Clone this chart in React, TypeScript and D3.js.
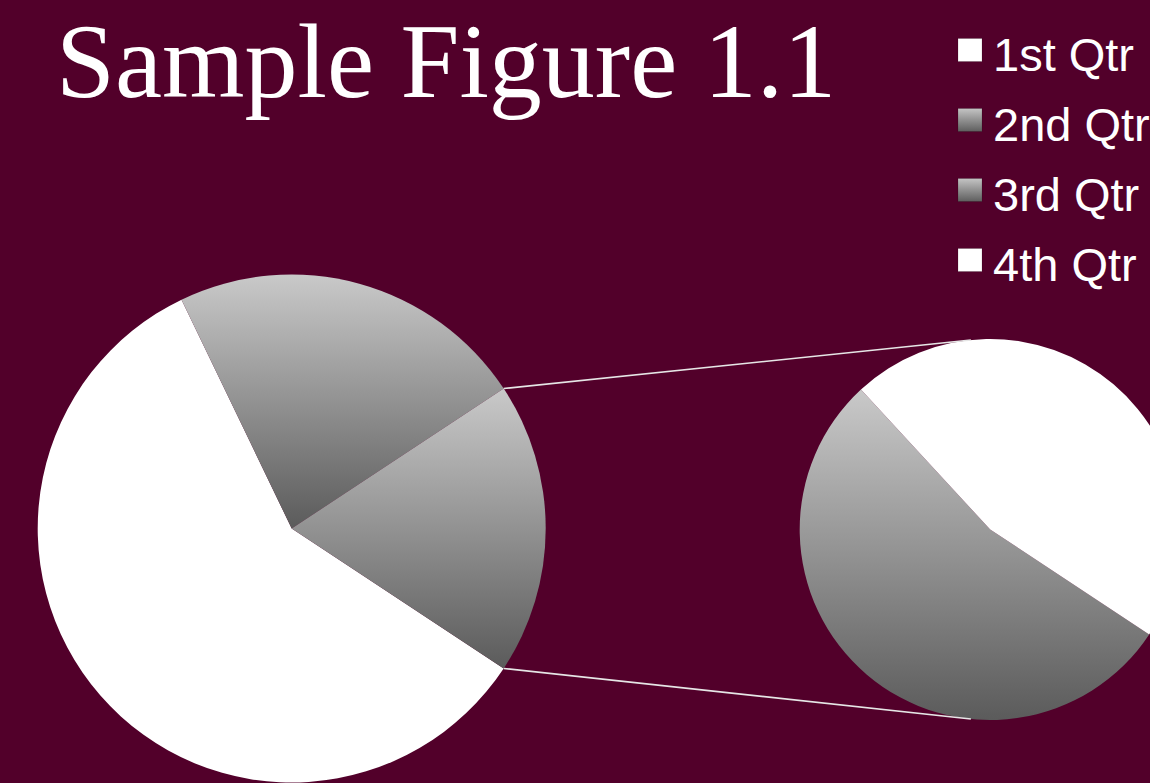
import React from "react";
import * as d3 from "d3";

const categories = ["1st Qtr", "2nd Qtr", "3rd Qtr", "4th Qtr"];
const sales = [8.2, 3.2, 1.4, 1.2];
const secondaryCount = 2; // last N values go to the secondary pie
const fillKinds = ["white", "grad", "grad", "white"];
const titleText = "Sample Figure 1.1";

const W = 1150;
const H = 783;
const BG = "#52002a";

export default function App() {
  const primaryN = sales.length - secondaryCount;
  const primaryVals = sales.slice(0, primaryN);
  const secondaryVals = sales.slice(primaryN);
  const otherVal = d3.sum(secondaryVals);
  const total = d3.sum(sales);

  const mainData = [...primaryVals, otherVal];
  const mainKinds = [...fillKinds.slice(0, primaryN), "grad"];
  const secKinds = fillKinds.slice(primaryN);

  const otherAngle = (2 * Math.PI * otherVal) / total;
  const start = Math.PI / 2 + otherAngle / 2;

  const r1 = 254;
  const r2 = r1 * 0.75;
  const c1 = { x: 291.7, y: 528.5 };
  const c2 = { x: c1.x + r1 + r1 + r2, y: 529.5 };

  const pieGen = d3
    .pie<number>()
    .sort(null)
    .value((d) => d)
    .startAngle(start)
    .endAngle(start + 2 * Math.PI);

  const mainArcs = pieGen(mainData);
  const secArcs = pieGen(secondaryVals);

  const arc1 = d3.arc<d3.PieArcDatum<number>>().innerRadius(0).outerRadius(r1);
  const arc2 = d3.arc<d3.PieArcDatum<number>>().innerRadius(0).outerRadius(r2);

  const otherArc = mainArcs[mainArcs.length - 1];
  const pt = (c: { x: number; y: number }, r: number, a: number) => ({
    x: c.x + r * Math.sin(a),
    y: c.y - r * Math.cos(a),
  });
  const p1a = pt(c1, r1, otherArc.startAngle);
  const p1b = pt(c1, r1, otherArc.endAngle);
  const off = Math.asin(19.3 / r2);
  const p2a = pt(c2, r2, -off);
  const p2b = pt(c2, r2, Math.PI + off);

  const fillFor = (k: string) => (k === "white" ? "#ffffff" : "url(#sliceGrad)");

  return (
    <svg
      width={W}
      height={H}
      style={{ position: "fixed", left: 0, top: 0, display: "block" }}
    >
      <defs>
        <linearGradient id="sliceGrad" x1="0" y1="0" x2="0" y2="1">
          <stop offset="0%" stopColor="#c9c9c9" />
          <stop offset="100%" stopColor="#5b5b5b" />
        </linearGradient>
        <linearGradient id="legGrad" x1="0" y1="0" x2="0" y2="1">
          <stop offset="0%" stopColor="#c4c4c4" />
          <stop offset="100%" stopColor="#5e5e5e" />
        </linearGradient>
      </defs>
      <rect x={0} y={0} width={W} height={H} fill={BG} />

      <text
        x={56}
        y={97}
        fill="#ffffff"
        fontFamily="'Liberation Serif', 'Times New Roman', serif"
        fontSize={106}
      >
        {titleText}
      </text>

      <g transform={`translate(${c1.x},${c1.y})`}>
        {mainArcs.map((a, i) => (
          <path key={i} d={arc1(a) || ""} fill={fillFor(mainKinds[i])} />
        ))}
      </g>

      <g transform={`translate(${c2.x},${c2.y})`}>
        {secArcs.map((a, i) => (
          <path key={i} d={arc2(a) || ""} fill={fillFor(secKinds[i])} />
        ))}
      </g>

      <line x1={p1a.x} y1={p1a.y} x2={p2a.x} y2={p2a.y} stroke="#e6e6e6" strokeWidth={1.6} />
      <line x1={p1b.x} y1={p1b.y} x2={p2b.x} y2={p2b.y} stroke="#e6e6e6" strokeWidth={1.6} />

      <g>
        {categories.map((c, i) => (
          <g key={c} transform={`translate(958,${38.5 + i * 70})`}>
            <rect
              x={0}
              y={0}
              width={24}
              height={23}
              fill={fillKinds[i] === "white" ? "#ffffff" : "url(#legGrad)"}
              stroke="rgba(0,0,0,0.25)"
              strokeWidth={0.6}
            />
            <text
              x={35}
              y={32.5}
              fill="#ffffff"
              fontFamily="'Liberation Sans', Arial, sans-serif"
              fontSize={47}
            >
              {c}
            </text>
          </g>
        ))}
      </g>
    </svg>
  );
}
